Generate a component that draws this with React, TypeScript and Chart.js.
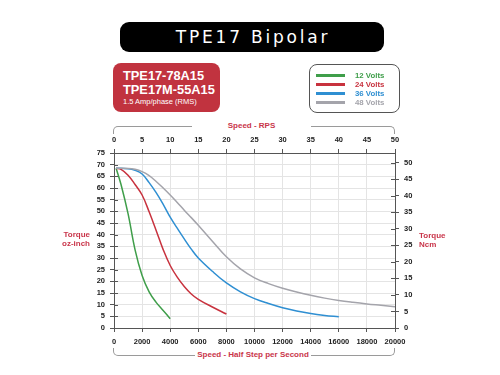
import React, { useEffect, useRef } from "react";
import { Chart, registerables } from "chart.js";

Chart.register(...registerables);

// ---- data ----
const seriesNames = ["12 Volts", "24 Volts", "36 Volts", "48 Volts"];
const seriesColors = ["#3f9e4a", "#c8323e", "#2f8fd2", "#a4a4ab"];

const v12Speed = [150, 500, 1000, 1500, 2000, 2500, 3000, 3500, 4000];
const v12Torque = [68.5, 61.5, 49, 33.5, 22.5, 15.5, 11, 7.5, 4];

const v24Speed = [150, 500, 1000, 1500, 2000, 2500, 3000, 3500, 4000, 4500, 5000, 5500, 6000, 7000, 8000];
const v24Torque = [68.5, 68, 65.5, 61.5, 57, 49.8, 41.8, 33.6, 26.8, 21.8, 17.8, 14.6, 12.3, 9, 6];

const v36Speed = [150, 1000, 1500, 2000, 2500, 3000, 3500, 4000, 4500, 5000, 5500, 6000, 7000, 8000, 9000, 10000, 11000, 12000, 13000, 14000, 15000, 16000];
const v36Torque = [68.5, 68.3, 67.6, 66, 62.3, 58, 53, 47.5, 42.8, 38.2, 33.8, 30, 24.3, 19.3, 15.5, 12.6, 10.5, 8.7, 7.3, 6.2, 5.4, 4.8];

const v48Speed = [150, 1000, 1500, 2000, 2500, 3000, 3500, 4000, 4500, 5000, 5500, 6000, 7000, 8000, 9000, 10000, 11000, 12000, 13000, 14000, 15000, 16000, 17000, 18000, 19000, 20000];
const v48Torque = [68.5, 68.4, 68, 67, 65.3, 62.8, 60, 57, 53.8, 50.5, 47.3, 44, 37.2, 30.5, 25.3, 21.5, 19, 17, 15.4, 14, 12.8, 11.8, 11, 10.3, 9.7, 9.1];

const speedXs = [v12Speed, v24Speed, v36Speed, v48Speed];
const torqueYs = [v12Torque, v24Torque, v36Torque, v48Torque];

const halfStepMax = 20000;
const halfStepStep = 2000;
const rpsMax = 50;
const rpsStep = 5;
const ozInMax = 75;
const torqueStep = 5;
const ozInPerNcm = 1.41612;

const tickFont = { family: "'Liberation Sans', Arial, sans-serif", size: 7.5, weight: "bold" as const };
const red = "#c9354a";
const axisColor = "#555555";
const gridColor = "#e4e4e4";

const innerTicks = {
  id: "innerTicks",
  afterDraw(chart: any) {
    const ctx = chart.ctx;
    const ca = chart.chartArea;
    ctx.save();
    ctx.strokeStyle = axisColor;
    ctx.lineWidth = 1;
    const y = chart.scales.y;
    y.ticks.forEach((t: any) => {
      const py = Math.round(y.getPixelForValue(t.value)) + 0.5;
      ctx.beginPath();
      ctx.moveTo(ca.left, py);
      ctx.lineTo(ca.left + 4, py);
      ctx.stroke();
    });
    const y2 = chart.scales.y2;
    y2.ticks.forEach((t: any) => {
      const py = Math.round(y2.getPixelForValue(t.value)) + 0.5;
      ctx.beginPath();
      ctx.moveTo(ca.right - 4, py);
      ctx.lineTo(ca.right, py);
      ctx.stroke();
    });
    ctx.restore();
  },
};

const plainLabel = (v: any) => String(v);
const keepMultiples = (step: number) => (s: any) => {
  s.ticks = s.ticks.filter((t: any) => Math.abs(t.value / step - Math.round(t.value / step)) < 1e-6);
};

export default function App() {
  const canvasRef = useRef<HTMLCanvasElement | null>(null);

  useEffect(() => {
    if (!canvasRef.current) return;
    const datasets = seriesNames.map((name, i) => ({
      label: name,
      data: speedXs[i].map((x, j) => ({ x, y: torqueYs[i][j] })),
      borderColor: seriesColors[i],
      backgroundColor: seriesColors[i],
      borderWidth: 1.5,
      pointRadius: 0,
      tension: 0.4,
      xAxisID: "x",
      yAxisID: "y",
    }));
    const chart = new Chart(canvasRef.current, {
      type: "line",
      data: { datasets: datasets.slice().reverse() },
      plugins: [innerTicks],
      options: {
        animation: false,
        responsive: false,
        maintainAspectRatio: false,
        layout: { padding: 0 },
        plugins: { legend: { display: false }, tooltip: { enabled: false }, title: { display: false } },
        scales: {
          x: {
            type: "linear",
            position: "bottom",
            min: 0,
            max: halfStepMax,
            afterFit: (s: any) => { s.height = 47; },
            ticks: { stepSize: halfStepStep, font: tickFont, color: "#222", padding: 5, maxRotation: 0, autoSkip: false, callback: plainLabel },
            grid: { color: gridColor, tickColor: axisColor, tickLength: 4, lineWidth: 1 },
            border: { color: axisColor, width: 1 },
          },
          x2: {
            type: "linear",
            position: "top",
            min: 0,
            max: rpsMax,
            afterFit: (s: any) => { s.height = 153; },
            ticks: { stepSize: rpsStep, font: tickFont, color: "#222", padding: 5, maxRotation: 0, autoSkip: false, callback: plainLabel },
            grid: { drawOnChartArea: false, tickColor: axisColor, tickLength: 4 },
            border: { color: axisColor, width: 1 },
          },
          y: {
            type: "linear",
            position: "left",
            min: 0,
            max: ozInMax,
            afterFit: (s: any) => { s.width = 114; },
            ticks: { stepSize: torqueStep, font: tickFont, color: "#222", padding: 5, autoSkip: false, callback: plainLabel },
            grid: { color: gridColor, tickColor: axisColor, tickLength: 4 },
            border: { color: axisColor, width: 1 },
          },
          y2: {
            type: "linear",
            position: "right",
            min: 0,
            max: ozInMax / ozInPerNcm,
            afterFit: (s: any) => { s.width = 105; },
            afterBuildTicks: keepMultiples(torqueStep),
            ticks: { stepSize: torqueStep, font: tickFont, color: "#222", padding: 5, autoSkip: false, callback: plainLabel },
            grid: { drawOnChartArea: false, tickColor: axisColor, tickLength: 4 },
            border: { color: axisColor, width: 1 },
          },
        },
      },
    });
    return () => chart.destroy();
  }, []);

  const abs = (l: number, t: number, extra: React.CSSProperties = {}): React.CSSProperties => ({
    position: "absolute",
    left: l,
    top: t,
    ...extra,
  });
  const axisTitleFont: React.CSSProperties = {
    fontFamily: "'Liberation Sans', Arial, sans-serif",
    fontWeight: "bold",
    fontSize: 8,
    color: red,
    lineHeight: "9px",
    whiteSpace: "nowrap",
  };

  return (
    <div style={{ position: "absolute", left: 0, top: 0, width: 500, height: 375, background: "#fff", overflow: "hidden" }}>
      <canvas ref={canvasRef} width={500} height={375} style={{ position: "absolute", left: 0, top: 0, width: 500, height: 375 }} />

      {/* title pill */}
      <div style={abs(120, 22, {
        width: 264, height: 30, background: "#000", borderRadius: 9, color: "#fff",
        fontFamily: "'DejaVu Sans', Verdana, sans-serif", fontSize: 17, letterSpacing: 2.8,
        display: "flex", alignItems: "center", justifyContent: "center", paddingLeft: 2, boxSizing: "border-box",
      })}>TPE17 Bipolar</div>

      {/* model box */}
      <div style={abs(113, 63, {
        width: 107, height: 49, background: "#c1333f", borderRadius: 8, color: "#fff",
        fontFamily: "'Liberation Sans', Arial, sans-serif", boxSizing: "border-box", paddingLeft: 10, paddingTop: 6,
      })}>
        <div style={{ fontWeight: "bold", fontSize: 12.8, lineHeight: "14px" }}>TPE17-78A15</div>
        <div style={{ fontWeight: "bold", fontSize: 12.8, lineHeight: "14px" }}>TPE17M-55A15</div>
        <div style={{ fontSize: 7.5, lineHeight: "10px" }}>1.5 Amp/phase (RMS)</div>
      </div>

      {/* legend */}
      <div style={abs(309, 64, {
        width: 91, height: 49, border: "1px solid #555", borderRadius: 8, boxSizing: "border-box", background: "#fff",
      })}>
        {seriesNames.map((n, i) => (
          <div key={n} style={{ position: "absolute", left: 6, top: 6 + i * 9, height: 9, display: "flex", alignItems: "center" }}>
            <div style={{ width: 29, height: 3, background: seriesColors[i] }} />
            <div style={{
              marginLeft: 10, color: seriesColors[i], fontFamily: "'Liberation Sans', Arial, sans-serif",
              fontWeight: "bold", fontSize: 7.8, lineHeight: "9px", whiteSpace: "nowrap",
            }}>{n}</div>
          </div>
        ))}
      </div>

      {/* top bracket */}
      <div style={abs(113, 126, {
        width: 282, height: 8, borderTop: "1.5px solid #9a9a9a", borderLeft: "1.5px solid #9a9a9a",
        borderRight: "1.5px solid #9a9a9a", borderRadius: "5px 5px 0 0", boxSizing: "border-box",
      })} />
      <div style={abs(192, 121, { ...axisTitleFont, width: 119, height: 10, background: "#fff", textAlign: "center", lineHeight: "10px" })}>Speed - RPS</div>

      {/* bottom bracket */}
      <div style={abs(113, 348, {
        width: 282, height: 8, borderBottom: "1.5px solid #9a9a9a", borderLeft: "1.5px solid #9a9a9a",
        borderRight: "1.5px solid #9a9a9a", borderRadius: "0 0 5px 5px", boxSizing: "border-box",
      })} />
      <div style={abs(195, 350, { ...axisTitleFont, width: 116, height: 10, background: "#fff", textAlign: "center", lineHeight: "10px" })}>Speed - Half Step per Second</div>

      {/* side titles */}
      <div style={abs(40, 230, { ...axisTitleFont, width: 50, textAlign: "right" })}>Torque<br />oz-inch</div>
      <div style={abs(419, 231, { ...axisTitleFont, textAlign: "left" })}>Torque<br />Ncm</div>
    </div>
  );
}
